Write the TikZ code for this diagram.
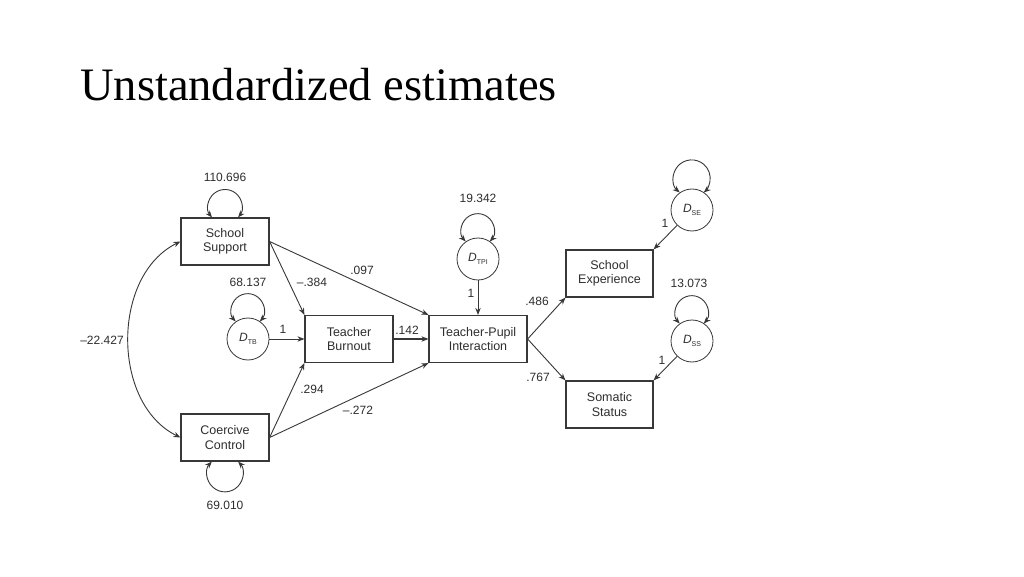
\documentclass[tikz,border=0pt]{standalone}
\usepackage{fontspec}
\setmainfont{Liberation Serif}
\newfontfamily\diagfont{Liberation Sans}
\usetikzlibrary{arrows.meta}
\definecolor{linec}{HTML}{383838}
\definecolor{txt}{HTML}{2E2E2E}
\newcommand{\dsub}[1]{{\itshape D}\raisebox{-2.5pt}{\fontsize{7}{7}\selectfont #1}}
\begin{document}
\begin{tikzpicture}[x=1pt,y=1pt,
  box/.style={draw=linec, line width=1.2pt, minimum width=88pt, minimum height=47pt, inner sep=0pt, align=center, font=\diagfont\fontsize{12.5}{14.5}\selectfont, text=txt},
  dist/.style={draw=linec, line width=0.8pt, circle, minimum size=42pt, inner sep=0pt, font=\diagfont\fontsize{12}{14}\selectfont, text=txt},
  lab/.style={font=\diagfont\fontsize{12}{14}\selectfont, text=txt, inner sep=1pt},
  arr/.style={draw=linec, line width=0.9pt, -{Stealth[length=7pt,width=5.5pt]}},
  dbl/.style={draw=linec, line width=0.9pt, {Stealth[length=7pt,width=5.5pt]}-{Stealth[length=7pt,width=5.5pt]}}]
\useasboundingbox (0,0) rectangle (1024,576);
\fill[white] (0,0) rectangle (1024,576);
% title
\node[anchor=base west, inner sep=0pt, font=\fontsize{46.5}{50}\selectfont] (title) at (80,475) {Unstandardized estimates};
% boxes
\node[box] (ss) at (225,334.5) {School\\Support};
\node[box] (cc) at (225,138.5) {Coercive\\Control};
\node[box] (tb) at (349,237) {Teacher\\Burnout};
\node[box, minimum width=98pt] (tpi) at (478,237) {Teacher-Pupil\\Interaction};
\node[box, minimum width=87pt] (se) at (609.5,302.5) {School\\Experience};
\node[box, minimum width=87pt] (sos) at (609.5,171.5) {Somatic\\Status};
% disturbances
\node[dist] (dtb) at (248,237) {\dsub{TB}};
\node[dist] (dtpi) at (478,317) {\dsub{TPI}};
\node[dist] (dse) at (692,366) {\dsub{SE}};
\node[dist] (dss) at (692,235) {\dsub{SS}};
% paths
\draw[arr] (ss.east) -- (tb.north west);
\draw[arr] (ss.east) -- (tpi.north west);
\draw[arr] (cc.east) -- (tb.south west);
\draw[arr] (cc.east) -- (tpi.south west);
\draw[arr, line width=1.4pt] (tb.east) -- (tpi.west);
\draw[arr] (dtb) -- (tb.west);
\draw[arr] (dtpi) -- (tpi.north);
\draw[arr] (tpi.east) -- (se.south west);
\draw[arr] (tpi.east) -- (sos.north west);
\draw[arr] (dse) -- (se.north east);
\draw[arr] (dss) -- (sos.north east);
% covariance
\draw[dbl] (ss.west) .. controls +(-69,-34) and +(-69,34) .. (cc.west);
% variances (self loops)
\draw[dbl] ([xshift=-13pt]ss.north) arc[start angle=220, end angle=-40, radius=17pt];
\draw[dbl] ([xshift=-13.2pt]cc.south) arc[start angle=137, end angle=403, radius=18pt];
\draw[dbl] (dtb.125) arc[start angle=223.3, end angle=-43.3, radius=16.5pt];
\draw[dbl] (dtpi.125) arc[start angle=223.3, end angle=-43.3, radius=16.5pt];
\draw[dbl] (dss.125) arc[start angle=223.3, end angle=-43.3, radius=16.5pt];
\draw[dbl] (dse.125) arc[start angle=229.6, end angle=-49.6, radius=18.5pt];
% labels
\node[lab] (l1) at (225,399) {110.696};
\node[lab] (l2) at (248,294) {68.137};
\node[lab] (l3) at (225,71) {69.010};
\node[lab] (l4) at (102,236) {–22.427};
\node[lab] (l5) at (362,306) {.097};
\node[lab] (l6) at (312,294) {–.384};
\node[lab] (l7) at (283,247) {1};
\node[lab] (l8) at (407,246) {.142};
\node[lab] (l9) at (312,187) {.294};
\node[lab] (l10) at (358,166) {–.272};
\node[lab] (l11) at (478,378) {19.342};
\node[lab] (l12) at (471,283) {1};
\node[lab] (l13) at (537,275) {.486};
\node[lab] (l14) at (538,199) {.767};
\node[lab] (l15) at (689,293) {13.073};
\node[lab] (l16) at (665,353) {1};
\node[lab] (l17) at (662,216) {1};
\end{tikzpicture}
\end{document}
